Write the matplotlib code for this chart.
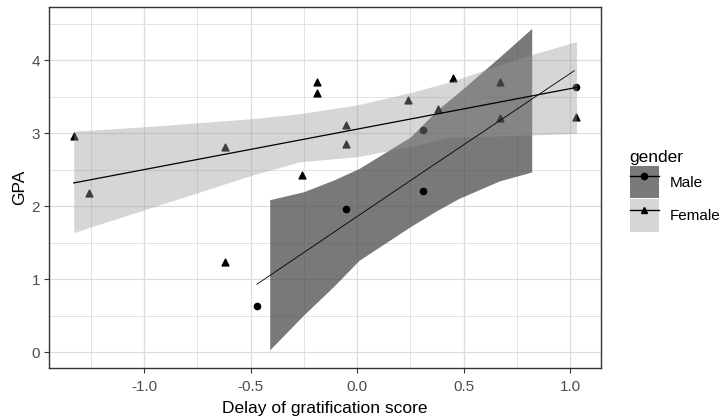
import matplotlib
matplotlib.use("Agg")
import matplotlib.pyplot as plt
from matplotlib.patches import Patch
from matplotlib.lines import Line2D
from matplotlib.legend_handler import HandlerTuple

plt.rcParams['font.family'] = ['Liberation Sans', 'DejaVu Sans']

# points
male_x = [-0.47, -0.05, 0.31, 0.31, 1.03]
male_y = [0.63, 1.96, 2.21, 3.04, 3.64]
female_x = [-1.33, -1.26, -0.62, -0.62, -0.26, -0.19, -0.19, -0.05, -0.05,
            0.24, 0.38, 0.45, 0.67, 0.67, 1.03]
female_y = [2.96, 2.18, 2.81, 1.24, 2.43, 3.71, 3.56, 3.11, 2.85,
            3.46, 3.33, 3.76, 3.70, 3.21, 3.22]

# fitted lines
male_fit_x = [-0.47, -0.05, 0.31, 1.02]
male_fit_y = [0.93, 1.76, 2.47, 3.86]
female_fit_x = [-1.33, -0.05, 1.03]
female_fit_y = [2.32, 3.03, 3.63]

# confidence bands
male_band_x = [-0.41, -0.25, -0.11, 0.01, 0.25, 0.38, 0.48, 0.67, 0.82]
male_band_hi = [2.09, 2.20, 2.36, 2.52, 2.95, 3.33, 3.57, 4.05, 4.44]
male_band_lo = [0.03, 0.51, 0.90, 1.26, 1.72, 1.95, 2.11, 2.35, 2.47]
female_band_x = [-1.33, -1.0, -0.5, -0.27, 0.0, 0.25, 0.44, 0.75, 1.03]
female_band_hi = [3.03, 3.09, 3.20, 3.27, 3.39, 3.56, 3.71, 4.02, 4.26]
female_band_lo = [1.64, 1.95, 2.42, 2.61, 2.68, 2.82, 2.95, 2.97, 3.00]

fig = plt.figure(figsize=(7.27, 4.19), dpi=100)
ax = fig.add_axes([0.0674, 0.1224, 0.7589, 0.8602])

male_fill = '#414141'
female_fill = '#999999'

ax.fill_between(male_band_x, male_band_lo, male_band_hi, color=male_fill,
                alpha=0.7, lw=0, zorder=1)
ax.scatter(male_x, male_y, marker='o', s=20, color='black', zorder=2)
ax.scatter(female_x, female_y, marker='^', s=24, color='black', zorder=2)
ax.fill_between(female_band_x, female_band_lo, female_band_hi, color=female_fill,
                alpha=0.4, lw=0, zorder=3)
ax.plot(male_fit_x, male_fit_y, color='black', lw=0.6, zorder=4)
ax.plot(female_fit_x, female_fit_y, color='black', lw=0.9, zorder=4)

ax.set_xlim(-1.446, 1.144)
ax.set_ylim(-0.215, 4.73)
ax.set_xticks([-1.0, -0.5, 0.0, 0.5, 1.0])
ax.set_xticklabels(['-1.0', '-0.5', '0.0', '0.5', '1.0'])
ax.set_yticks([0, 1, 2, 3, 4])
ax.set_xticks([-1.25, -0.75, -0.25, 0.25, 0.75], minor=True)
ax.set_yticks([0.5, 1.5, 2.5, 3.5, 4.5], minor=True)
ax.grid(True, which='major', color='#dcdcdc', lw=0.9, zorder=0)
ax.grid(True, which='minor', color='#e2e2e2', lw=0.7, zorder=0)
ax.set_axisbelow(True)
ax.tick_params(which='major', length=3.8, width=0.8, color='#333333',
               labelsize=11, labelcolor='#4d4d4d', pad=2.5)
ax.tick_params(axis='x', which='major', pad=4.8)
ax.tick_params(which='minor', length=0)
for sp in ax.spines.values():
    sp.set_color('#333333')
    sp.set_linewidth(1.0)

ax.set_xlabel('Delay of gratification score', fontsize=12.5, labelpad=5)
ax.set_ylabel('GPA', fontsize=12.5, labelpad=3)

# legend
male_key = (Patch(facecolor='#7a7a7a', edgecolor='none'),
            Line2D([], [], color='black', lw=1.0, marker='o', markersize=4.5))
female_key = (Patch(facecolor='#d6d6d6', edgecolor='none'),
              Line2D([], [], color='black', lw=1.0, marker='^', markersize=5))
leg = fig.legend([male_key, female_key], ['Male', 'Female'],
                 handler_map={tuple: HandlerTuple(ndivide=1)},
                 loc='upper left', bbox_to_anchor=(0.8555, 0.66),
                 frameon=False, fontsize=11, title='gender', title_fontsize=12.5,
                 handlelength=1.95, handleheight=2.9, labelspacing=0.05,
                 handletextpad=0.7, borderpad=0, alignment='left')

fig.savefig('out.png', dpi=100)
